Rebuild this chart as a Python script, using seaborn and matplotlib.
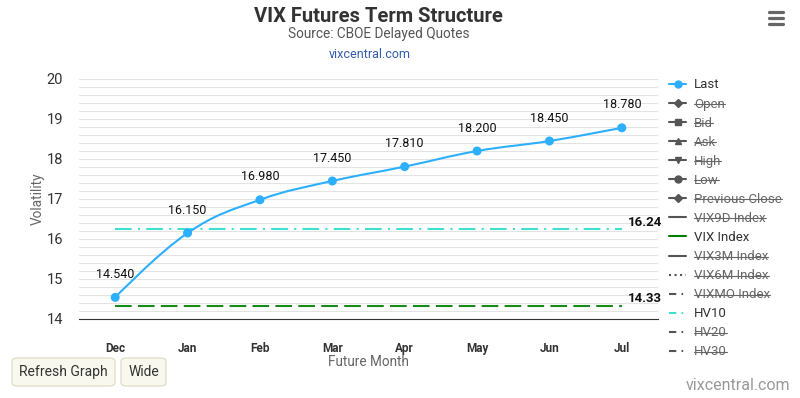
import matplotlib
matplotlib.use("Agg")
import matplotlib.pyplot as plt
import numpy as np
import pandas as pd
import seaborn as sns
from matplotlib.lines import Line2D
from matplotlib.patches import FancyBboxPatch, PathPatch
from matplotlib.path import Path
from matplotlib.ticker import MultipleLocator

# Data
months = ["Dec", "Jan", "Feb", "Mar", "Apr", "May", "Jun", "Jul"]
last = [14.54, 16.15, 16.98, 17.45, 17.81, 18.20, 18.45, 18.78]
hv10 = 16.24
vix_index = 14.33

legend_labels = ["Last", "Open", "Bid", "Ask", "High", "Low", "Previous Close",
                 "VIX9D Index", "VIX Index", "VIX3M Index", "VIX6M Index",
                 "VIXMO Index", "HV10", "HV20", "HV30"]
visible = ["Last", "VIX Index", "HV10"]

BLUE = "#2caffe"
GREEN = "#188a18"
TURQ = "#40e0d0"
HIDDEN = "#555555"


def spline_path(xs, ys, smoothing=1.5):
    """Highcharts-like spline through the points (bezier control points)."""
    denom = smoothing + 1
    n = len(xs)
    lc, rc = [None] * n, [None] * n
    for i in range(1, n - 1):
        px, py = xs[i], ys[i]
        lx, ly = xs[i - 1], ys[i - 1]
        nx, ny = xs[i + 1], ys[i + 1]
        lcx, lcy = (smoothing * px + lx) / denom, (smoothing * py + ly) / denom
        rcx, rcy = (smoothing * px + nx) / denom, (smoothing * py + ny) / denom
        corr = ((rcy - lcy) * (rcx - px)) / (rcx - lcx) + py - rcy
        lcy += corr
        rcy += corr
        if lcy > max(ly, py):
            lcy = max(ly, py); rcy = 2 * py - lcy
        elif lcy < min(ly, py):
            lcy = min(ly, py); rcy = 2 * py - lcy
        if rcy > max(ny, py):
            rcy = max(ny, py); lcy = 2 * py - rcy
        elif rcy < min(ny, py):
            rcy = min(ny, py); lcy = 2 * py - rcy
        lc[i], rc[i] = (lcx, lcy), (rcx, rcy)
    verts = [(xs[0], ys[0])]
    codes = [Path.MOVETO]
    for i in range(1, n):
        c1 = rc[i - 1] or (xs[i - 1], ys[i - 1])
        c2 = lc[i] or (xs[i], ys[i])
        verts += [c1, c2, (xs[i], ys[i])]
        codes += [Path.CURVE4] * 3
    return Path(verts, codes)


sns.set_theme(style="white")
plt.rcParams["font.family"] = ["Roboto", "DejaVu Sans"]

df = pd.DataFrame({"Month": months, "Last": last,
                   "HV10": [hv10] * len(months),
                   "VIX": [vix_index] * len(months)})
df["x"] = np.arange(len(months))

fig = plt.figure(figsize=(8, 3.98), dpi=100)
ax = fig.add_axes([79 / 800, 79 / 398, 579 / 800, 240 / 398])

# reference lines
sns.lineplot(data=df, x="x", y="VIX", ax=ax, color=GREEN, lw=1.5,
             zorder=3).lines[-1].set_dashes((8, 3))
sns.lineplot(data=df, x="x", y="HV10", ax=ax, color=TURQ, lw=1.5,
             zorder=3).lines[-1].set_dashes((8, 3, 1, 3))

# smooth "Last" curve + markers
ax.add_patch(PathPatch(spline_path(df["x"].values, df["Last"].values),
                       fill=False, edgecolor=BLUE, lw=1.5, zorder=4))
sns.scatterplot(data=df, x="x", y="Last", ax=ax, color=BLUE, s=42,
                edgecolor="none", zorder=5)

for xi, v in zip(df["x"], df["Last"]):
    ax.annotate(f"{v:.3f}", (xi, v), xytext=(0, 16.5), textcoords="offset points",
                ha="center", va="center", fontsize=9, color="#111111", zorder=6)

ax.annotate(f"{hv10:.2f}", (7, hv10), xytext=(4.5, 5), textcoords="offset points",
            ha="left", va="center", fontsize=9.5, fontweight="bold", color="#111111")
ax.annotate(f"{vix_index:.2f}", (7, vix_index), xytext=(4.5, 5),
            textcoords="offset points", ha="left", va="center", fontsize=9.5,
            fontweight="bold", color="#111111")

ax.set_xlim(-0.5, len(months) - 0.5)
ax.set_ylim(14, 20)
ax.set_xticks(df["x"])
ax.set_xticklabels(months, fontsize=8.5, fontweight="bold", color="#333333")
ax.yaxis.set_major_locator(MultipleLocator(1))
ax.yaxis.set_minor_locator(MultipleLocator(0.2))
ax.tick_params(axis="x", length=0, pad=16.5)
ax.tick_params(axis="y", which="both", length=0, pad=11.5, labelsize=10.5,
               labelcolor="#333333")
ax.grid(True, axis="y", which="both", color="#e3e3e3", lw=0.75)
ax.set_axisbelow(True)
for s in ["left", "right", "top"]:
    ax.spines[s].set_visible(False)
ax.spines["bottom"].set_color("#333333")
ax.spines["bottom"].set_linewidth(0.8)
ax.set_xlabel("Future Month", fontsize=9.8, color="#666666", labelpad=0)
ax.set_ylabel("Volatility", fontsize=9.8, color="#666666", labelpad=1)

# titles
fig.text(378 / 800, 1 - 17 / 398, "VIX Futures Term Structure", ha="center",
         va="center", fontsize=14.5, fontweight="bold", color="#333333")
fig.text(379 / 800, 1 - 34 / 398, "Source: CBOE Delayed Quotes", ha="center",
         va="center", fontsize=9.8, color="#555555")
fig.text(370 / 800, 1 - 54 / 398, "vixcentral.com", ha="center", va="center",
         fontsize=9, color="#335cad")
fig.text(790 / 800, 1 - 386 / 398, "vixcentral.com", ha="right", va="center",
         fontsize=11.5, color="#999999")

# legend
markers = {"Last": "o", "Open": "D", "Bid": "s", "Ask": "^", "High": "v",
           "Low": "o", "Previous Close": "D"}
dashdot = (0, (3.5, 2.5, 0.8, 2.5))
styles = {"VIX9D Index": "-", "VIX Index": "-", "VIX3M Index": "-",
          "VIX6M Index": ":", "VIXMO Index": dashdot, "HV10": dashdot,
          "HV20": dashdot, "HV30": dashdot}
colors = {"Last": BLUE, "VIX Index": "green", "HV10": TURQ}
handles = []
for lab in legend_labels:
    c = colors.get(lab, HIDDEN)
    if lab in markers:
        ms = 5 if markers[lab] in ("o", "s") else 4
        h = Line2D([], [], color=c, lw=1.5, marker=markers[lab], markersize=ms)
    else:
        h = Line2D([], [], color=c, lw=1.5, ls=styles[lab])
    handles.append(h)
leg = fig.legend(handles, legend_labels, loc="upper left",
                 bbox_to_anchor=(669 / 800, 1 - 78.5 / 398), frameon=False,
                 fontsize=9.5, handlelength=1.3, handletextpad=0.6,
                 labelspacing=0.46, borderpad=0, borderaxespad=0)
for t in leg.get_texts():
    t.set_color("#333333" if t.get_text() in visible else "#666666")

# strike-through for hidden series
fig.canvas.draw()
inv = fig.transFigure.inverted()
for t in leg.get_texts():
    if t.get_text() in visible:
        continue
    bb = t.get_window_extent()
    (x0, y0), (x1, y1) = inv.transform([(bb.x0, bb.y0), (bb.x1, bb.y1)])
    ym = y0 + (y1 - y0) * 0.5
    fig.add_artist(Line2D([x0, x1], [ym, ym], color="#666666", lw=0.8,
                          transform=fig.transFigure))

# buttons
for label, x0, w in [("Refresh Graph", 12, 103), ("Wide", 121, 45)]:
    fig.add_artist(FancyBboxPatch((x0 / 800, 1 - 386 / 398), w / 800, 28 / 398,
                                  boxstyle="round,pad=0,rounding_size=0.008",
                                  transform=fig.transFigure, facecolor="#f8f8ee",
                                  edgecolor="#ddd8bd", lw=0.8))
    fig.text((x0 + w / 2) / 800, 1 - 372 / 398, label, ha="center", va="center",
             fontsize=10, color="#333333")

# menu icon
for yy in (12, 18, 24):
    fig.add_artist(Line2D([769 / 800, 783 / 800], [1 - yy / 398] * 2,
                          color="#666666", lw=2.3, solid_capstyle="round",
                          transform=fig.transFigure))

fig.savefig("out.png", dpi=100)
